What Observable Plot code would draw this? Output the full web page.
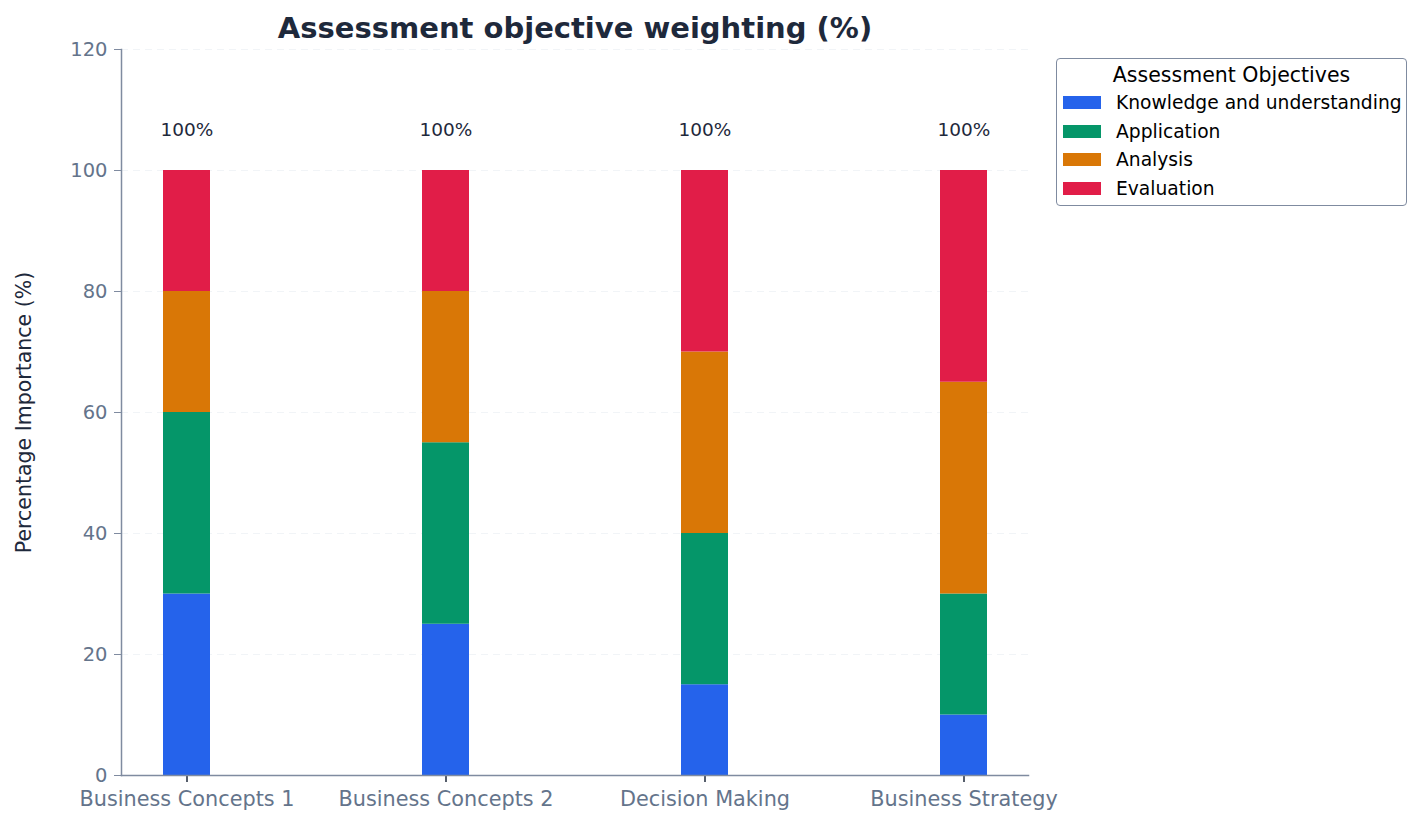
<!DOCTYPE html>
<html>
<head>
<meta charset="utf-8">
<script src="https://cdn.jsdelivr.net/npm/d3@7"></script>
<script src="https://cdn.jsdelivr.net/npm/@observablehq/plot@0.6"></script>
<style>
  html, body { margin: 0; padding: 0; background: #fff; }
  #wrap { position: relative; width: 1424px; height: 825px; font-family: "DejaVu Sans", sans-serif; }
  #chart svg { display: block; }
  #legend { position: absolute; left: 1056px; top: 58px; width: 349px; height: 146px; border: 1.5px solid #7f8ba0; border-radius: 4px; background: #fff; box-sizing: content-box; }
  #legend .ttl { text-align: center; font-size: 20.5px; line-height: 26px; padding-top: 3px; color: #000; }
  #legend .row { display: flex; align-items: center; height: 28.7px; }
  #legend .sw { width: 38px; height: 13px; margin-left: 6px; }
  #legend .lb { margin-left: 15px; font-size: 18.7px; color: #000; }
</style>
</head>
<body>
<div id="wrap">
  <div id="chart"></div>
  <div id="legend"></div>
</div>
<script>
const categories = ["Business Concepts 1", "Business Concepts 2", "Decision Making", "Business Strategy"];
const series = ["Knowledge and understanding", "Application", "Analysis", "Evaluation"];
const seriesColors = ["#2563eb", "#059669", "#d97706", "#e11d48"];
const knowledge = [30, 25, 15, 10];
const application = [30, 30, 25, 20];
const analysis = [20, 25, 30, 35];
const evaluation = [20, 20, 30, 35];
const yTicks = [0, 20, 40, 60, 80, 100, 120];
const chartTitle = "Assessment objective weighting (%)";
const yLabel = "Percentage Importance (%)";
const legendTitle = "Assessment Objectives";

const seriesValues = [knowledge, application, analysis, evaluation];
const data = [];
categories.forEach((c, i) => {
  series.forEach((s, j) => data.push({category: c, series: s, value: seriesValues[j][i]}));
});
const totals = categories.map((c, i) => ({category: c, total: seriesValues.reduce((a, v) => a + v[i], 0)}));

const axisColor = "#7f8ba0";

const plot = Plot.plot({
  width: 1424,
  height: 825,
  marginLeft: 121,
  marginRight: 396,
  marginTop: 49,
  marginBottom: 50,
  style: {fontFamily: "DejaVu Sans, sans-serif", background: "#fff", overflow: "visible"},
  x: {domain: categories, paddingInner: 0.819, paddingOuter: 0.156, label: null},
  y: {domain: [0, 120], label: null},
  color: {domain: series, range: seriesColors},
  marks: [
    Plot.gridY(yTicks, {stroke: "#eef1f5", strokeOpacity: 0.8, strokeDasharray: "7,5"}),
    Plot.barY(data, {x: "category", y: "value", fill: "series"}),
    Plot.text(totals, {x: "category", y: "total", text: d => d.total + "%", dy: -40, fontSize: 18.5, fill: "#1e293b"}),
    Plot.axisY(yTicks, {tickSize: 7, tickPadding: 7, stroke: axisColor, fill: "#64748b", fontSize: 19.5, label: null}),
    Plot.axisX({tickSize: 7, tickPadding: 9, stroke: "#1e293b", strokeWidth: 1.5, fill: "#64748b", fontSize: 20.8, label: null}),
    Plot.frame({anchor: "left", stroke: axisColor, strokeWidth: 1.5}),
    Plot.frame({anchor: "bottom", stroke: axisColor, strokeWidth: 1.5}),
    Plot.text([chartTitle], {frameAnchor: "top", lineAnchor: "middle", text: d => d, dy: -21, fontSize: 29, fontWeight: "bold", fill: "#1e293b"}),
    Plot.text([yLabel], {frameAnchor: "left", textAnchor: "middle", lineAnchor: "middle", text: d => d, rotate: -90, dx: -97, fontSize: 20.5, fill: "#1e293b"})
  ]
});
document.getElementById("chart").appendChild(plot);

const legend = document.getElementById("legend");
const t = document.createElement("div");
t.className = "ttl";
t.textContent = legendTitle;
legend.appendChild(t);
series.forEach((s, i) => {
  const row = document.createElement("div");
  row.className = "row";
  const sw = document.createElement("div");
  sw.className = "sw";
  sw.style.background = seriesColors[i];
  const lb = document.createElement("div");
  lb.className = "lb";
  lb.textContent = s;
  row.appendChild(sw);
  row.appendChild(lb);
  legend.appendChild(row);
});
</script>
</body>
</html>
